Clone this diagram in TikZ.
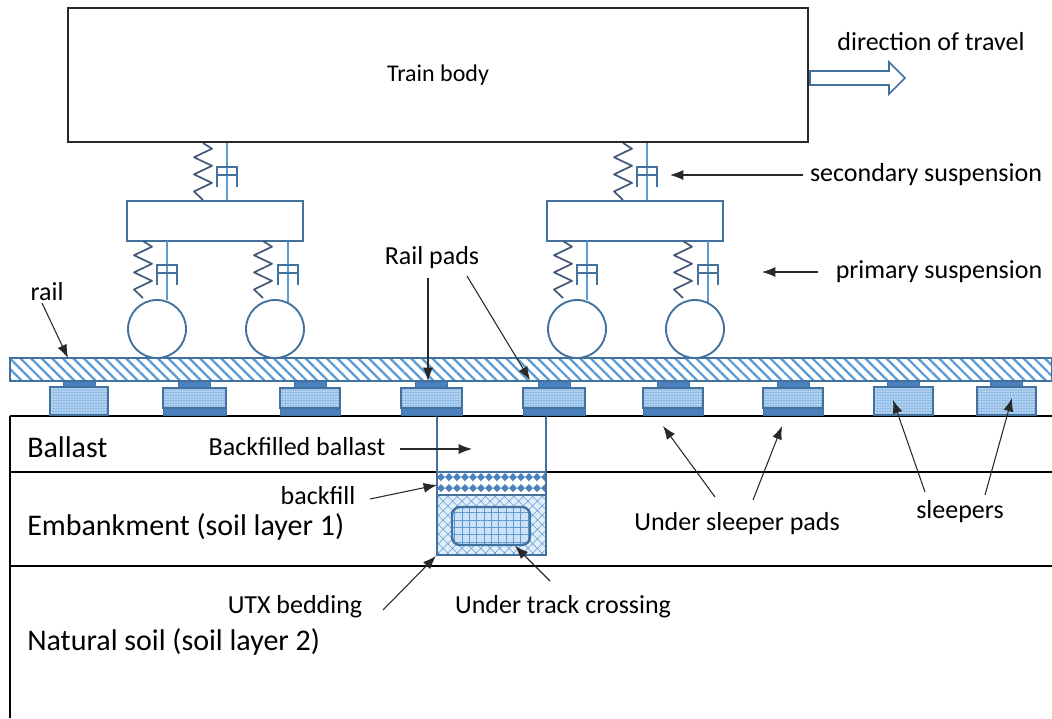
\documentclass[tikz,border=0pt]{standalone}
\usepackage{fontspec}
\setmainfont{Carlito}
\usetikzlibrary{arrows.meta,patterns.meta}

\definecolor{bluedark}{RGB}{65,113,156}
\definecolor{bluemid}{RGB}{91,155,213}
\definecolor{springcol}{RGB}{68,90,120}
\definecolor{padcol}{RGB}{74,128,190}
\definecolor{sleeperbg}{RGB}{175,208,240}
\definecolor{utxbg}{RGB}{225,238,250}
\definecolor{utcbg}{RGB}{205,226,246}
\definecolor{linegray}{RGB}{40,40,40}

\tikzset{
  smalllbl/.style={font=\fontsize{19.5}{23}\selectfont, inner sep=0pt},
  biglbl/.style={font=\fontsize{22.5}{27}\selectfont, inner sep=0pt, anchor=west},
  pointer/.style={draw=linegray, line width=0.8pt, -{Latex[length=10pt,width=7.5pt]}},
  groundline/.style={draw=black, line width=1.2pt},
  springline/.style={draw=springcol, line width=1.3pt},
  rodline/.style={draw=bluemid, line width=1.3pt},
  cylline/.style={draw=bluedark, line width=1.3pt},
  bogie/.style={draw=bluedark, line width=1.4pt, fill=white},
  wheel/.style={draw=bluedark, line width=1.4pt, fill=white},
  padstyle/.style={draw=bluedark, line width=0.6pt, fill=padcol},
  sleeperbody/.style={draw=bluedark, line width=0.8pt, preaction={fill=sleeperbg},
    pattern={Dots[radius=0.45pt,distance=2pt]}, pattern color=bluemid},
}

% spring: centre x, top y, bottom y
\newcommand\zigspring[3]{%
  \draw[springline, line join=round] (#1,#2) -- ({#1+9},{#2+0.1*(#3-#2)})
    -- ({#1-9},{#2+0.25*(#3-#2)}) -- ({#1+9},{#2+0.4*(#3-#2)})
    -- ({#1-9},{#2+0.55*(#3-#2)}) -- ({#1+9},{#2+0.7*(#3-#2)})
    -- ({#1-9},{#2+0.85*(#3-#2)}) -- (#1,#3);}
% damper: rod x, rod top, rod bottom, cylinder top
\newcommand\damper[4]{%
  \draw[rodline] (#1,#2) -- (#1,#3);
  \draw[cylline] ({#1-10},{#4+20}) -- ({#1-10},#4) -- ({#1+10},#4) -- ({#1+10},{#4+20})
    ({#1-10},{#4+8}) -- ({#1+10},{#4+8});}
% sleeper without under sleeper pad: left x, right x
\newcommand\sleeperplain[2]{%
  \draw[padstyle] ({(#1+#2)/2-16},381) rectangle ({(#1+#2)/2+16},387);
  \draw[sleeperbody] (#1,387) rectangle (#2,415);}
% sleeper with under sleeper pad: left x, right x
\newcommand\sleeperusp[2]{%
  \draw[padstyle] ({(#1+#2)/2-16},381) rectangle ({(#1+#2)/2+16},388);
  \draw[sleeperbody] (#1,388) rectangle (#2,408);
  \draw[padstyle] (#1,408) rectangle (#2,415);}
% one bogie with its suspension, offset in x
\newcommand\bogieunit[1]{%
  \begin{scope}[xshift={#1*0.75pt}]
    \zigspring{203}{143}{200}
    \damper{227}{142}{202}{167}
    \draw[bogie] (127,201) rectangle (303,241);
    \zigspring{143}{241}{298}
    \damper{167}{241}{300}{265}
    \zigspring{263}{241}{298}
    \damper{288}{241}{303}{265}
    \draw[wheel] (157,329) circle[radius=21.75pt];
    \draw[wheel] (275,329) circle[radius=21.75pt];
  \end{scope}}

\begin{document}
\begin{tikzpicture}[x=0.75pt,y=-0.75pt]
\useasboundingbox (0,0) rectangle (1052,718);

% ground layers
\draw[groundline] (10,416) -- (1052,416);
\draw[groundline] (10,472) -- (437,472) (546,472) -- (1052,472);
\draw[groundline] (10,566) -- (1052,566);
\draw[groundline] (10,416) -- (10,718);

% backfilled trench over the under track crossing
\draw[bluedark, line width=0.8pt, preaction={fill=utxbg},
  pattern={Hatch[angle=45,distance=5pt,line width=0.4pt]}, pattern color=bluemid]
  (437,495) rectangle (546,555);
\fill[white] (437,472) rectangle (546,495);
\begin{scope}
  \clip (437,472) rectangle (546,495);
  \foreach \cx in {441,449,...,545} {
    \foreach \cy in {477,488} {
      \fill[padcol] (\cx,\cy-4) -- (\cx+4,\cy) -- (\cx,\cy+4) -- (\cx-4,\cy) -- cycle;
    }
  }
\end{scope}
\draw[bluedark, line width=1pt] (437,472) -- (546,472) (437,495) -- (546,495);
\draw[bluedark, line width=1.2pt] (437,416) rectangle (546,555);
\draw[groundline] (437,416) -- (546,416);
\draw[draw=bluedark, line width=1.8pt, rounded corners=6pt, preaction={fill=utcbg},
  pattern={Hatch[angle=0,distance=5.5pt,line width=0.45pt]}, pattern color=bluemid]
  (452,507) rectangle (530,545);

% sleepers and rail pads
\sleeperplain{50}{108}
\sleeperusp{163}{226}
\sleeperusp{280}{340}
\sleeperusp{401}{462}
\sleeperusp{523}{585}
\sleeperusp{643}{703}
\sleeperusp{763}{823}
\sleeperplain{874}{933}
\sleeperplain{977}{1036}

% rail
\draw[bluedark, line width=1pt, preaction={fill=white},
  pattern={Lines[angle=-45,distance=5.6pt,line width=1.7pt]}, pattern color=bluemid]
  (10,358) rectangle (1052,381);

% vehicle
\bogieunit{0}
\bogieunit{420}
\draw[draw=linegray, line width=1.6pt, fill=white] (68,8) rectangle (808,142);
\node[font=\fontsize{18}{22}\selectfont, inner sep=0pt] (body) at (438,75) {Train body};

% direction of travel
\draw[bluedark, line width=1.3pt, fill=white]
  (810,71) -- (889,71) -- (889,62) -- (905,78) -- (889,94) -- (889,85) -- (810,85) -- cycle;
\node[smalllbl] (travel) at (931,42) {direction of travel};

% labels
\node[smalllbl] (secsus) at (926,175) {secondary suspension};
\node[smalllbl] (prisus) at (939,272) {primary suspension};
\node[smalllbl] (raillbl) at (47,292) {rail};
\node[smalllbl] (padlbl) at (432,258) {Rail pads};
\node[smalllbl] (bfblbl) at (297,447) {Backfilled ballast};
\node[smalllbl] (bflbl) at (318,496) {backfill};
\node[smalllbl] (utxlbl) at (295,607) {UTX bedding};
\node[smalllbl] (utclbl) at (563,607) {Under track crossing};
\node[smalllbl] (usplbl) at (737,524) {Under sleeper pads};
\node[smalllbl] (slplbl) at (960,512) {sleepers};
\node[biglbl] (ballast) at (27,447) {Ballast};
\node[biglbl] (embank) at (27,527) {Embankment (soil layer 1)};
\node[biglbl] (natural) at (27,642) {Natural soil (soil layer 2)};

% pointer ends
\coordinate (secT) at (803,175);  \coordinate (secH) at (670,175);
\coordinate (priT) at (818,272);  \coordinate (priH) at (762,272);
\coordinate (railT) at (42,303);  \coordinate (railH) at (68,358);
\coordinate (padT1) at (428,278); \coordinate (padH1) at (428,381);
\coordinate (padT2) at (467,276); \coordinate (padH2) at (530,380);
\coordinate (bfbT) at (400,449);  \coordinate (bfbH) at (472,449);
\coordinate (bfT) at (370,499);   \coordinate (bfH) at (437,485);
\coordinate (utxT) at (383,610);  \coordinate (utxH) at (436,556);
\coordinate (utcT) at (550,581);  \coordinate (utcH) at (515,546);
\coordinate (uspT1) at (715,497); \coordinate (uspH1) at (663,426);
\coordinate (uspT2) at (753,500); \coordinate (uspH2) at (782,426);
\coordinate (slpT1) at (925,492); \coordinate (slpH1) at (893,400);
\coordinate (slpT2) at (985,495); \coordinate (slpH2) at (1012,398);

\draw[pointer] (secT) -- (secH);
\draw[pointer] (priT) -- (priH);
\draw[pointer] (railT) -- (railH);
\draw[pointer] (padT1) -- (padH1);
\draw[pointer] (padT2) -- (padH2);
\draw[pointer] (bfbT) -- (bfbH);
\draw[pointer] (bfT) -- (bfH);
\draw[pointer] (utxT) -- (utxH);
\draw[pointer] (utcT) -- (utcH);
\draw[pointer] (uspT1) -- (uspH1);
\draw[pointer] (uspT2) -- (uspH2);
\draw[pointer] (slpT1) -- (slpH1);
\draw[pointer] (slpT2) -- (slpH2);
\end{tikzpicture}
\end{document}
